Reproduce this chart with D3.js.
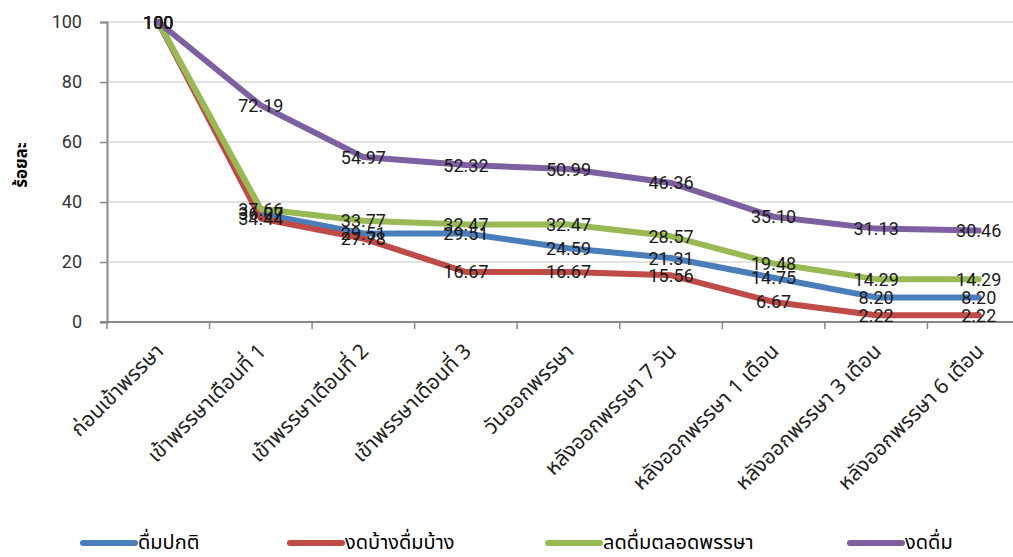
<!DOCTYPE html>
<html>
<head>
<meta charset="utf-8">
<script src="https://cdn.jsdelivr.net/npm/d3@7"></script>
<style>
  body { margin: 0; background: #fff; }
  svg { display: block; font-family: Tahoma, "Noto Sans Thai", "DejaVu Sans", sans-serif; }
</style>
</head>
<body>
<svg id="canvas" width="1013" height="557"></svg>
<script>
let categories = ['ก่อนเข้าพรรษา', 'เข้าพรรษาเดือนที่ 1', 'เข้าพรรษาเดือนที่ 2', 'เข้าพรรษาเดือนที่ 3',
    'วันออกพรรษา', 'หลังออกพรรษา 7 วัน', 'หลังออกพรรษา 1 เดือน', 'หลังออกพรรษา 3 เดือน', 'หลังออกพรรษา 6 เดือน']
let seriesNames = ['ดื่มปกติ', 'งดบ้างดื่มบ้าง', 'ลดดื่มตลอดพรรษา', 'งดดื่ม']
let drinkNormal = [100, 36.07, 29.51, 29.51, 24.59, 21.31, 14.75, 8.20, 8.20]
let sometimes = [100, 34.44, 27.78, 16.67, 16.67, 15.56, 6.67, 2.22, 2.22]
let reduced = [100, 37.66, 33.77, 32.47, 32.47, 28.57, 19.48, 14.29, 14.29]
let quit = [100, 72.19, 54.97, 52.32, 50.99, 46.36, 35.10, 31.13, 30.46]
let yTicks = [0, 20, 40, 60, 80, 100]

let colors = ['#4a7ebb', '#be4b48', '#98b954', '#7d60a0']
let allSeries = [drinkNormal, sometimes, reduced, quit]

let canvas = d3.select('#canvas')

let x = d3.scaleBand().domain(categories).range([107, 1030])
let y = d3.scaleLinear().domain([0, 100]).range([322, 22])
let cx = (c) => x(c) + x.bandwidth() / 2

// gridlines
canvas.selectAll('.grid')
    .data(yTicks.filter(t => t > 0))
    .enter().append('line')
    .attr('x1', 107).attr('x2', 1030)
    .attr('y1', d => y(d)).attr('y2', d => y(d))
    .attr('stroke', '#d9d9d9').attr('stroke-width', 1.5)

// y axis
let yAxis = canvas.append('g')
    .attr('transform', 'translate(107,0)')
    .call(d3.axisLeft(y).tickValues(yTicks).tickSize(7).tickPadding(18))
yAxis.select('.domain').attr('stroke', '#898989').attr('stroke-width', 2)
yAxis.selectAll('.tick line').attr('stroke', '#898989').attr('stroke-width', 1.5)
yAxis.selectAll('.tick text')
    .attr('font-size', 18).attr('fill', '#333')
    .attr('font-family', 'Roboto, "DejaVu Sans", sans-serif')

// x axis line + boundary ticks
canvas.append('line')
    .attr('x1', 100).attr('x2', 1030)
    .attr('y1', y(0)).attr('y2', y(0))
    .attr('stroke', '#898989').attr('stroke-width', 2)
canvas.selectAll('.xtick')
    .data(categories)
    .enter().append('line')
    .attr('x1', d => x(d)).attr('x2', d => x(d))
    .attr('y1', y(0)).attr('y2', y(0) + 7)
    .attr('stroke', '#898989').attr('stroke-width', 1.5)

canvas.selectAll('.xlabel')
    .data(categories)
    .enter().append('text')
    .attr('transform', d => 'translate(' + (cx(d) - 6) + ',' + 340 + ') rotate(-45)')
    .attr('text-anchor', 'end')
    .attr('dominant-baseline', 'hanging')
    .attr('font-size', 21)
    .attr('fill', '#222')
    .text(d => d)

// y title
canvas.append('text')
    .attr('transform', 'translate(27,165) rotate(-90)')
    .attr('text-anchor', 'middle')
    .attr('font-size', 17)
    .attr('font-weight', 'bold')
    .attr('fill', '#000')
    .text('ร้อยละ')

// lines
let line = d3.line()
    .x((d, i) => cx(categories[i]))
    .y(d => y(d))

allSeries.forEach((s, k) => {
    canvas.append('path')
        .datum(s)
        .attr('d', line)
        .attr('fill', 'none')
        .attr('stroke', colors[k])
        .attr('stroke-width', 6)
        .attr('stroke-linejoin', 'round')
        .attr('stroke-linecap', 'round')
})

// data labels
allSeries.forEach((s, k) => {
    canvas.selectAll('.lab' + k)
        .data(s)
        .enter().append('text')
        .attr('x', (d, i) => cx(categories[i]))
        .attr('y', d => y(d))
        .attr('text-anchor', 'middle')
        .attr('dominant-baseline', 'central')
        .attr('font-size', 18)
        .attr('fill', '#1a1a1a')
        .attr('font-family', 'Roboto, "DejaVu Sans", sans-serif')
        .text(d => d === 100 ? '100' : d.toFixed(2))
})

// legend
let legendX = [83, 290, 548, 850]
seriesNames.forEach((n, k) => {
    let g = canvas.append('g').attr('transform', 'translate(' + legendX[k] + ',543)')
    g.append('line')
        .attr('x1', 0).attr('x2', 52)
        .attr('stroke', colors[k]).attr('stroke-width', 6)
        .attr('stroke-linecap', 'round')
    g.append('text')
        .attr('x', 55).attr('y', 0)
        .attr('dominant-baseline', 'central')
        .attr('font-size', 20)
        .attr('fill', '#000')
        .text(n)
})
</script>
</body>
</html>
